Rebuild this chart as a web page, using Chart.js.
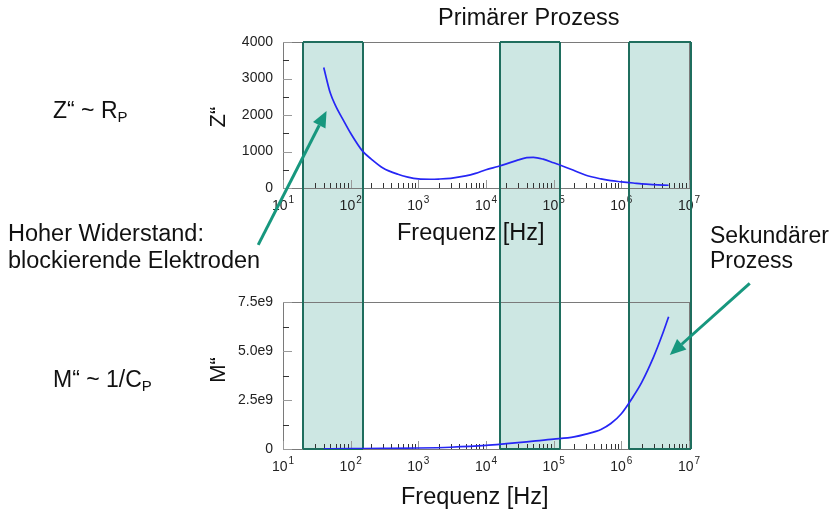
<!DOCTYPE html>
<html>
<head>
<meta charset="utf-8">
<script src="https://cdn.jsdelivr.net/npm/chart.js@4.4.1/dist/chart.umd.min.js"></script>
<style>
  body { margin: 0; background: #fff; }
  #wrap { position: relative; width: 836px; height: 514px; overflow: hidden;
          font-family: 'Liberation Sans', Arial, sans-serif; color: #111; }
  canvas { position: absolute; left: 0; }
  .txt { position: absolute; white-space: nowrap; line-height: 1; font-size: 23.5px; }
  .rot { position: absolute; white-space: nowrap; line-height: 1; font-size: 22px;
         transform: translate(-50%, -50%) rotate(-90deg); }
  .txt sub { font-size: 15px; vertical-align: baseline; position: relative; top: 4px; }
</style>
</head>
<body>
<div id="wrap">
  <canvas id="zChart" width="836" height="260" style="top:0"></canvas>
  <canvas id="mChart" width="836" height="254" style="top:260px"></canvas>

  <div class="txt" style="left:438px; top:6px">Primärer Prozess</div>
  <div class="txt" style="left:53px; top:99px; font-size:23px">Z“ ~ R<sub>P</sub></div>
  <div class="rot" style="left:218px; top:117px">Z“</div>
  <div class="txt" style="left:8px; top:220px; line-height:27px">Hoher Widerstand:<br>blockierende Elektroden</div>
  <div class="txt" style="left:397px; top:221px">Frequenz [Hz]</div>
  <div class="txt" style="left:710px; top:223px; font-size:23px; line-height:25px">Sekundärer<br>Prozess</div>
  <div class="txt" style="left:53px; top:368px; font-size:23px">M“ ~ 1/C<sub>P</sub></div>
  <div class="rot" style="left:218px; top:370px">M“</div>
  <div class="txt" style="left:401px; top:485px">Frequenz [Hz]</div>
</div>

<script>
// Z'' (Ohm) over frequency (Hz)
const zFreq = [40, 50, 60, 80, 100, 150, 200, 300, 500, 700, 1e3, 1.5e3, 2e3, 3e3, 5e3, 7e3,
  1e4, 1.5e4, 2e4, 3e4, 4e4, 5e4, 7e4, 1e5, 1.5e5, 2e5, 3e5, 5e5, 7e5, 1e6, 1.5e6, 2e6, 3e6, 5e6];
const zValues = [3300, 2600, 2250, 1820, 1500, 1010, 800, 550, 375, 300, 250, 240, 245, 265, 330, 400,
  500, 590, 660, 770, 830, 840, 790, 690, 570, 480, 350, 250, 200, 170, 137, 112, 92, 75];

// M'' over frequency (Hz)
const mFreq = [40, 100, 300, 1e3, 3e3, 1e4, 2e4, 5e4, 1e5, 2e5, 3e5, 5e5, 7e5, 1e6, 1.5e6, 2e6, 3e6, 4e6, 5e6];
const mValues = [0.01e9, 0.02e9, 0.03e9, 0.05e9, 0.09e9, 0.18e9, 0.27e9, 0.4e9, 0.5e9, 0.62e9, 0.76e9,
  1.0e9, 1.3e9, 1.8e9, 2.68e9, 3.4e9, 4.7e9, 5.8e9, 6.75e9];

// shaded frequency ranges (Hz)
const bandStarts = [20, 16000, 1.3e6];
const bandEnds = [152, 124000, 1.07e7];

const decades = [1, 2, 3, 4, 5, 6, 7];
const zTicks = [0, 1000, 2000, 3000, 4000];
const mTicks = [0, 2.5e9, 5.0e9, 7.5e9];

const fontFamily = "'Liberation Sans', Arial, sans-serif";
const lineBlue = 'rgb(38, 38, 245)';
const bandFill = 'rgba(205, 231, 227, 1)';
const bandEdge = '#1f6e5e';
const arrowColor = '#17977e';

const toPoints = (xs, ys) => xs.map((x, i) => ({ x, y: ys[i] }));

const drawArrow = (ctx, x1, y1, x2, y2) => {
  const ang = Math.atan2(y2 - y1, x2 - x1);
  const len = 16, half = 7;
  const bx = x2 - len * Math.cos(ang), by = y2 - len * Math.sin(ang);
  ctx.save();
  ctx.strokeStyle = arrowColor;
  ctx.fillStyle = arrowColor;
  ctx.lineWidth = 3;
  ctx.beginPath();
  ctx.moveTo(x1, y1);
  ctx.lineTo(bx, by);
  ctx.stroke();
  ctx.beginPath();
  ctx.moveTo(x2, y2);
  ctx.lineTo(bx + half * Math.sin(ang), by - half * Math.cos(ang));
  ctx.lineTo(bx - half * Math.sin(ang), by + half * Math.cos(ang));
  ctx.closePath();
  ctx.fill();
  ctx.restore();
};

const framePlugin = {
  id: 'frame',
  beforeDraw(chart, args, opts) {
    const { ctx, chartArea: a, scales: { x } } = chart;
    const top = opts.upper ? a.top : 0;
    const bottom = opts.upper ? chart.height : a.bottom;
    ctx.save();
    ctx.fillStyle = bandFill;
    bandStarts.forEach((lo, i) => {
      const x1 = x.getPixelForValue(lo), x2 = x.getPixelForValue(bandEnds[i]);
      ctx.fillRect(x1, top, x2 - x1, bottom - top);
    });
    ctx.restore();
  },
  beforeDatasetsDraw(chart, args, opts) {
    const { ctx, chartArea: a, scales: { x, y } } = chart;
    ctx.save();
    // frame
    ctx.strokeStyle = '#7a7a7a';
    ctx.lineWidth = 1;
    ctx.strokeRect(Math.round(a.left) + 0.5, Math.round(a.top) + 0.5,
      Math.round(a.right - a.left), Math.round(a.bottom - a.top));

    // y ticks (major + half step minor)
    const step = opts.step;
    for (let v = 0; v <= y.max + 1; v += step / 2) {
      const py = Math.round(y.getPixelForValue(v)) + 0.5;
      const major = Math.abs(v / step - Math.round(v / step)) < 1e-6;
      ctx.strokeStyle = major ? '#9a9a9a' : '#333';
      ctx.beginPath();
      ctx.moveTo(a.left, py);
      ctx.lineTo(a.left + (major ? 9 : 6), py);
      ctx.stroke();
    }

    // x ticks on log axis
    decades.forEach((d) => {
      for (let m = 1; m <= 9; m++) {
        const v = m * Math.pow(10, d);
        if (v > x.max * 1.0001) break;
        const px = Math.round(x.getPixelForValue(v)) + 0.5;
        ctx.strokeStyle = m === 1 ? '#9a9a9a' : '#333';
        ctx.beginPath();
        ctx.moveTo(px, a.bottom);
        ctx.lineTo(px, a.bottom - (m === 1 ? 8 : 5));
        ctx.stroke();
      }
    });

    // x labels 10^n
    ctx.fillStyle = '#222';
    ctx.textBaseline = 'alphabetic';
    decades.forEach((d) => {
      const px = x.getPixelForValue(Math.pow(10, d));
      ctx.font = `14px ${fontFamily}`;
      const wBase = ctx.measureText('10').width;
      ctx.font = `10px ${fontFamily}`;
      const wExp = ctx.measureText(String(d)).width;
      const start = px - (wBase + wExp + 1) / 2;
      ctx.font = `14px ${fontFamily}`;
      ctx.fillText('10', start, a.bottom + 22);
      ctx.font = `10px ${fontFamily}`;
      ctx.fillText(String(d), start + wBase + 1, a.bottom + 15);
    });

    // band edges
    const top = opts.upper ? a.top : 0;
    const bottom = opts.upper ? chart.height : a.bottom;
    ctx.strokeStyle = bandEdge;
    ctx.lineWidth = 2;
    bandStarts.forEach((lo, i) => {
      const x1 = Math.round(x.getPixelForValue(lo));
      const x2 = Math.round(x.getPixelForValue(bandEnds[i]));
      ctx.beginPath();
      ctx.moveTo(x1, top);
      ctx.lineTo(x1, bottom);
      ctx.moveTo(x2, top);
      ctx.lineTo(x2, bottom);
      if (opts.upper) {
        ctx.moveTo(x1, a.top);
        ctx.lineTo(x2, a.top);
      } else {
        ctx.moveTo(x1, a.bottom);
        ctx.lineTo(x2, a.bottom);
      }
      ctx.stroke();
    });
    ctx.restore();
  },
  afterDraw(chart, args, opts) {
    const { ctx, scales: { x, y } } = chart;
    (opts.arrows || []).forEach((ar) => {
      drawArrow(ctx,
        x.getPixelForValue(ar.from[0]), y.getPixelForValue(ar.from[1]),
        x.getPixelForValue(ar.to[0]), y.getPixelForValue(ar.to[1]));
    });
  },
};

const makeChart = (canvas, points, yMax, yTicks, fmt, axisHeight, frameOpts) => {
  new Chart(canvas, {
    type: 'scatter',
    data: {
      datasets: [
        {
          data: points,
          showLine: true,
          borderColor: lineBlue,
          borderWidth: 1.7,
          pointRadius: 0,
          cubicInterpolationMode: 'monotone',
        },
      ],
    },
    options: {
      responsive: false,
      animation: false,
      devicePixelRatio: 1,
      layout: { padding: { left: 0, right: 147, top: 42, bottom: 0 } },
      plugins: {
        legend: { display: false },
        tooltip: { enabled: false },
        frame: frameOpts,
      },
      scales: {
        x: {
          type: 'logarithmic',
          min: 10,
          max: 1e7,
          grid: { display: false, drawTicks: false },
          border: { display: false },
          ticks: { display: false },
          afterFit: (s) => { s.height = axisHeight; },
        },
        y: {
          type: 'linear',
          min: 0,
          max: yMax,
          grid: { display: false, drawTicks: false },
          border: { display: false },
          afterBuildTicks: (s) => { s.ticks = yTicks.map((v) => ({ value: v })); },
          ticks: {
            padding: 10,
            color: '#222',
            font: { family: fontFamily, size: 14 },
            callback: fmt,
          },
          afterFit: (s) => { s.width = 283; },
        },
      },
    },
    plugins: [framePlugin],
  });
};

makeChart(document.getElementById('zChart'), toPoints(zFreq, zValues), 4000, zTicks,
  (v) => String(v), 72,
  { upper: true, step: 1000, arrows: [{ from: [4.3, -1560], to: [44, 2110] }] });

makeChart(document.getElementById('mChart'), toPoints(mFreq, mValues), 7.5e9, mTicks,
  (v) => (v === 0 ? '0' : (v / 1e9).toFixed(1) + 'e9'), 65,
  { upper: false, step: 2.5e9, arrows: [{ from: [7.9e7, 8.45e9], to: [5.2e6, 4.8e9] }] });
</script>
</body>
</html>
